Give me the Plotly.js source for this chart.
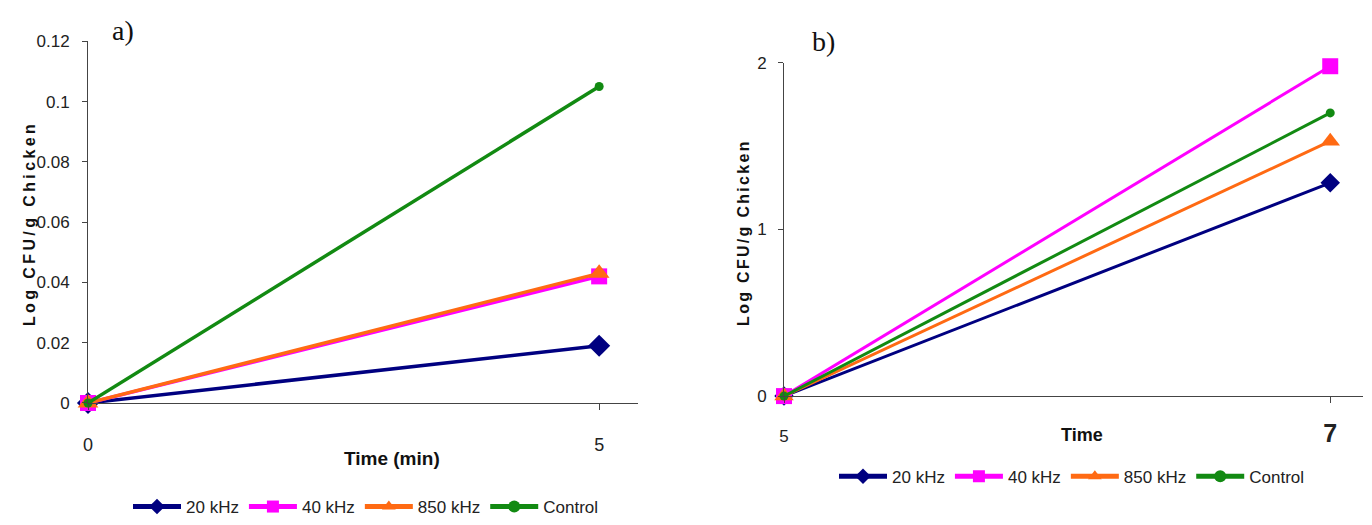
<!DOCTYPE html>
<html>
<head>
<meta charset="utf-8">
<script src="https://cdn.plot.ly/plotly-3.0.1.min.js"></script>
<style>
html,body{margin:0;padding:0;background:#fff;}
#chart{width:1372px;height:525px;}
</style>
</head>
<body>
<div id="chart"></div>
<script>
// ---- data ----
const seriesNames = ['20 kHz', '40 kHz', '850 kHz', 'Control'];
const timeA = [0, 5];
const timeB = [5, 7];
const a20 = [0, 0.019];
const a40 = [0, 0.042];
const a850 = [0, 0.043];
const aCtrl = [0, 0.105];
const b20 = [0, 1.28];
const b40 = [0, 1.98];
const b850 = [0, 1.53];
const bCtrl = [0, 1.70];
const yTicksA = [0, 0.02, 0.04, 0.06, 0.08, 0.1, 0.12];
const xTicksA = [0, 5];
const yTicksB = [0, 1, 2];
const xTicksB = [5, 7];
const xTickTextB = ['5', '<b><span style="font-size:25px">7</span></b>'];

const colors = ['#000080', '#FF00FF', '#FF6A13', '#128A12'];
const symbols = ['diamond', 'square', 'triangle-up', 'circle'];
const sizesA = [17, 16, 18, 9];
const sizesB = [15, 16, 17, 9];

const SANS = 'Arial, "Liberation Sans", sans-serif';
const SERIF = '"Liberation Serif", "Times New Roman", serif';

const seriesA = [a20, a40, a850, aCtrl];
const seriesB = [b20, b40, b850, bCtrl];

const traces = [];
seriesA.forEach((ys, i) => {
  traces.push({
    type: 'scatter', mode: 'lines+markers', name: seriesNames[i],
    x: timeA, y: ys, xaxis: 'x', yaxis: 'y', legend: 'legend',
    cliponaxis: false,
    line: {color: colors[i], width: 3.5},
    marker: {symbol: symbols[i], size: sizesA[i], color: colors[i]}
  });
});
seriesB.forEach((ys, i) => {
  traces.push({
    type: 'scatter', mode: 'lines+markers', name: seriesNames[i],
    x: timeB, y: ys, xaxis: 'x2', yaxis: 'y2', legend: 'legend2',
    cliponaxis: false,
    line: {color: colors[i], width: 3},
    marker: {symbol: symbols[i], size: sizesB[i], color: colors[i]}
  });
});

const W = 1372, H = 525;
const px = v => v / W;
const py = v => (H - v) / H;

const axisCommon = {
  showgrid: false, zeroline: false, showline: true,
  linecolor: '#444', linewidth: 1, ticks: 'outside', tickcolor: '#444',
  tickwidth: 1, fixedrange: true
};

const legendCommon = {
  orientation: 'h', xanchor: 'center', yanchor: 'middle',
  font: {family: SANS, size: 17, color: '#222'},
  itemsizing: 'constant', itemwidth: 48, tracegroupgap: 0, bgcolor: 'rgba(0,0,0,0)'
};

const layout = {
  width: W, height: H,
  margin: {l: 0, r: 0, t: 0, b: 0},
  paper_bgcolor: '#fff', plot_bgcolor: '#fff',
  showlegend: true,
  xaxis: Object.assign({}, axisCommon, {
    domain: [px(88), px(638)], range: [0, 5.38],
    tickmode: 'array', tickvals: xTicksA, ticklen: 6, ticklabelstandoff: 19,
    tickfont: {family: SANS, size: 18, color: '#222'},
    anchor: 'y'
  }),
  yaxis: Object.assign({}, axisCommon, {
    domain: [py(410), py(42)], range: [0, 0.12],
    tickmode: 'array', tickvals: yTicksA, ticklen: 5, ticklabelstandoff: 9,
    tickfont: {family: SANS, size: 17, color: '#222'},
    anchor: 'x'
  }),
  xaxis2: Object.assign({}, axisCommon, {
    domain: [px(784), px(1363)], range: [5, 7.12],
    tickmode: 'array', tickvals: xTicksB, ticktext: xTickTextB, ticklen: 6, ticklabelstandoff: 19,
    tickfont: {family: SANS, size: 17, color: '#222'},
    anchor: 'y2'
  }),
  yaxis2: Object.assign({}, axisCommon, {
    domain: [py(403), py(64)], range: [0, 2],
    tickmode: 'array', tickvals: yTicksB, ticklen: 5, ticklabelstandoff: 8,
    tickfont: {family: SANS, size: 17, color: '#222'},
    anchor: 'x2'
  }),
  legend: Object.assign({}, legendCommon, {x: px(366), y: py(516)}),
  legend2: Object.assign({}, legendCommon, {x: px(1072), y: py(485)}),
  annotations: [
    {text: 'a)', x: px(123), y: py(31), xanchor: 'center', yanchor: 'middle',
     xref: 'paper', yref: 'paper', showarrow: false,
     font: {family: SERIF, size: 28, color: '#111'}},
    {text: 'b)', x: px(823), y: py(42), xanchor: 'center', yanchor: 'middle',
     xref: 'paper', yref: 'paper', showarrow: false,
     font: {family: SERIF, size: 28, color: '#111'}},
    {text: '<b><span style="letter-spacing:3.4px">Log CFU/g Chicken</span></b>',
     x: px(29), y: py(228), xanchor: 'center', yanchor: 'middle',
     xref: 'paper', yref: 'paper', showarrow: false, textangle: -90,
     font: {family: SANS, size: 16, color: '#111'}},
    {text: '<b><span style="letter-spacing:2.3px">Log CFU/g Chicken</span></b>',
     x: px(744), y: py(237), xanchor: 'center', yanchor: 'middle',
     xref: 'paper', yref: 'paper', showarrow: false, textangle: -90,
     font: {family: SANS, size: 16, color: '#111'}},
    {text: '<b>Time (min)</b>', x: px(392), y: py(466), xanchor: 'center', yanchor: 'middle',
     xref: 'paper', yref: 'paper', showarrow: false,
     font: {family: SANS, size: 19, color: '#111'}},
    {text: '<b>Time</b>', x: px(1082), y: py(443), xanchor: 'center', yanchor: 'middle',
     xref: 'paper', yref: 'paper', showarrow: false,
     font: {family: SANS, size: 18, color: '#111'}}
  ]
};

Plotly.newPlot('chart', traces, layout, {staticPlot: true, displayModeBar: false});
</script>
</body>
</html>
